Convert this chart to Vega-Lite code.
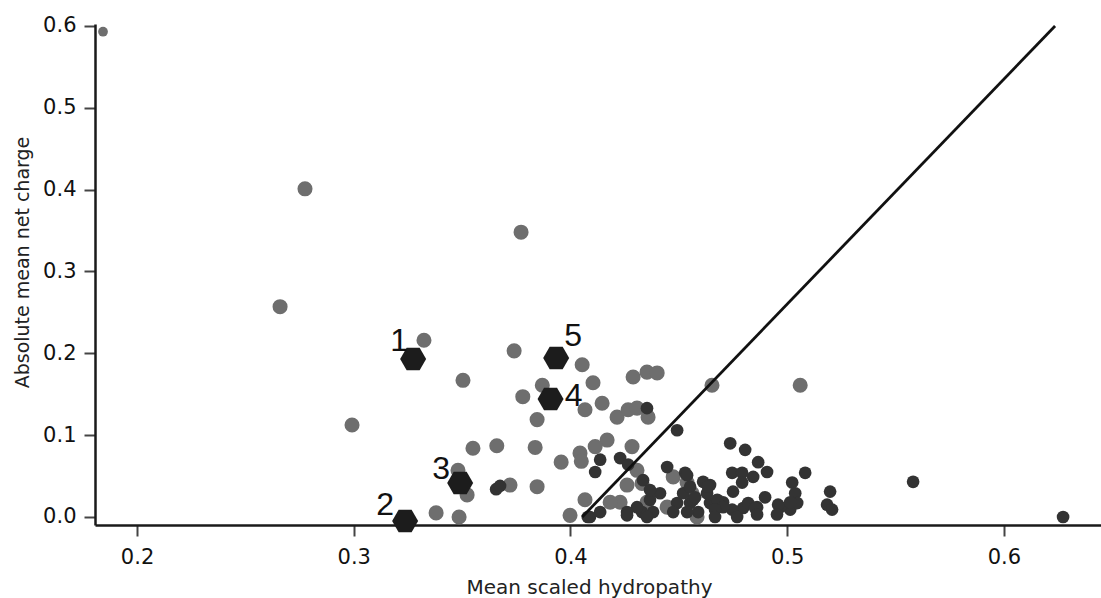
{
  "$schema": "https://vega.github.io/schema/vega-lite/v6.json",
  "width": 1006,
  "height": 501,
  "autosize": {"type": "none"},
  "padding": {"left": 95, "top": 24, "right": 0, "bottom": 73},
  "background": "white",
  "config": {
    "view": {"stroke": null},
    "axis": {
      "grid": false,
      "domainColor": "#1a1a1a",
      "domainWidth": 2.5,
      "tickColor": "#444444",
      "tickWidth": 2,
      "tickSize": 11,
      "labelFont": "DejaVu Sans",
      "labelFontSize": 21,
      "labelColor": "#111111",
      "titleFont": "DejaVu Sans",
      "titleFontWeight": "normal",
      "titleColor": "#222222"
    }
  },
  "datasets": {
    "pts": [
      {"x": 0.2775, "y": 0.401, "g": "gray"},
      {"x": 0.266, "y": 0.257, "g": "gray"},
      {"x": 0.2992, "y": 0.1124, "g": "gray"},
      {"x": 0.3772, "y": 0.348, "g": "gray"},
      {"x": 0.3324, "y": 0.216, "g": "gray"},
      {"x": 0.3504, "y": 0.167, "g": "gray"},
      {"x": 0.374, "y": 0.203, "g": "gray"},
      {"x": 0.4054, "y": 0.186, "g": "gray"},
      {"x": 0.387, "y": 0.161, "g": "gray"},
      {"x": 0.378, "y": 0.147, "g": "gray"},
      {"x": 0.3846, "y": 0.119, "g": "gray"},
      {"x": 0.355, "y": 0.084, "g": "gray"},
      {"x": 0.366, "y": 0.087, "g": "gray"},
      {"x": 0.3837, "y": 0.085, "g": "gray"},
      {"x": 0.3957, "y": 0.067, "g": "gray"},
      {"x": 0.4044, "y": 0.078, "g": "gray"},
      {"x": 0.405, "y": 0.068, "g": "gray"},
      {"x": 0.3721, "y": 0.039, "g": "gray"},
      {"x": 0.3846, "y": 0.037, "g": "gray"},
      {"x": 0.3523, "y": 0.027, "g": "gray"},
      {"x": 0.338, "y": 0.005, "g": "gray"},
      {"x": 0.3486, "y": 0.0, "g": "gray"},
      {"x": 0.3481, "y": 0.057, "g": "gray"},
      {"x": 0.3998, "y": 0.002, "g": "gray"},
      {"x": 0.4104, "y": 0.164, "g": "gray"},
      {"x": 0.4067, "y": 0.131, "g": "gray"},
      {"x": 0.4289, "y": 0.171, "g": "gray"},
      {"x": 0.4353, "y": 0.177, "g": "gray"},
      {"x": 0.44, "y": 0.176, "g": "gray"},
      {"x": 0.4653, "y": 0.161, "g": "gray"},
      {"x": 0.506, "y": 0.161, "g": "gray"},
      {"x": 0.4146, "y": 0.139, "g": "gray"},
      {"x": 0.4215, "y": 0.122, "g": "gray"},
      {"x": 0.4266, "y": 0.131, "g": "gray"},
      {"x": 0.4307, "y": 0.133, "g": "gray"},
      {"x": 0.4358, "y": 0.122, "g": "gray"},
      {"x": 0.4169, "y": 0.094, "g": "gray"},
      {"x": 0.4114, "y": 0.086, "g": "gray"},
      {"x": 0.4284, "y": 0.086, "g": "gray"},
      {"x": 0.4307, "y": 0.057, "g": "gray"},
      {"x": 0.4261, "y": 0.039, "g": "gray"},
      {"x": 0.433, "y": 0.041, "g": "gray"},
      {"x": 0.4474, "y": 0.049, "g": "gray"},
      {"x": 0.4538, "y": 0.042, "g": "gray"},
      {"x": 0.4561, "y": 0.029, "g": "gray"},
      {"x": 0.4353, "y": 0.018, "g": "gray"},
      {"x": 0.4446, "y": 0.012, "g": "gray"},
      {"x": 0.4229, "y": 0.018, "g": "gray"},
      {"x": 0.4183, "y": 0.018, "g": "gray"},
      {"x": 0.4067, "y": 0.021, "g": "gray"},
      {"x": 0.4584, "y": 0.0, "g": "gray"},
      {"x": 0.1843, "y": 0.593, "g": "outlier"},
      {"x": 0.3657, "y": 0.034, "g": "dark"},
      {"x": 0.3675, "y": 0.038, "g": "dark"},
      {"x": 0.4353, "y": 0.133, "g": "dark"},
      {"x": 0.4492, "y": 0.106, "g": "dark"},
      {"x": 0.4137, "y": 0.07, "g": "dark"},
      {"x": 0.4114, "y": 0.055, "g": "dark"},
      {"x": 0.4229, "y": 0.072, "g": "dark"},
      {"x": 0.4266, "y": 0.064, "g": "dark"},
      {"x": 0.4446, "y": 0.061, "g": "dark"},
      {"x": 0.4529, "y": 0.054, "g": "dark"},
      {"x": 0.4737, "y": 0.09, "g": "dark"},
      {"x": 0.4806, "y": 0.082, "g": "dark"},
      {"x": 0.4866, "y": 0.067, "g": "dark"},
      {"x": 0.4907, "y": 0.055, "g": "dark"},
      {"x": 0.4746, "y": 0.054, "g": "dark"},
      {"x": 0.4792, "y": 0.054, "g": "dark"},
      {"x": 0.4843, "y": 0.049, "g": "dark"},
      {"x": 0.4792, "y": 0.042, "g": "dark"},
      {"x": 0.475, "y": 0.031, "g": "dark"},
      {"x": 0.5083, "y": 0.054, "g": "dark"},
      {"x": 0.5023, "y": 0.042, "g": "dark"},
      {"x": 0.5037, "y": 0.029, "g": "dark"},
      {"x": 0.5198, "y": 0.031, "g": "dark"},
      {"x": 0.5184, "y": 0.015, "g": "dark"},
      {"x": 0.5207, "y": 0.009, "g": "dark"},
      {"x": 0.5014, "y": 0.009, "g": "dark"},
      {"x": 0.5046, "y": 0.017, "g": "dark"},
      {"x": 0.4967, "y": 0.012, "g": "dark"},
      {"x": 0.4898, "y": 0.024, "g": "dark"},
      {"x": 0.4861, "y": 0.012, "g": "dark"},
      {"x": 0.4797, "y": 0.011, "g": "dark"},
      {"x": 0.4746, "y": 0.009, "g": "dark"},
      {"x": 0.4769, "y": 0.0, "g": "dark"},
      {"x": 0.4704, "y": 0.018, "g": "dark"},
      {"x": 0.4644, "y": 0.017, "g": "dark"},
      {"x": 0.4644, "y": 0.039, "g": "dark"},
      {"x": 0.463, "y": 0.029, "g": "dark"},
      {"x": 0.4677, "y": 0.021, "g": "dark"},
      {"x": 0.4704, "y": 0.012, "g": "dark"},
      {"x": 0.4667, "y": 0.009, "g": "dark"},
      {"x": 0.4667, "y": 0.0, "g": "dark"},
      {"x": 0.4589, "y": 0.006, "g": "dark"},
      {"x": 0.4552, "y": 0.017, "g": "dark"},
      {"x": 0.4566, "y": 0.021, "g": "dark"},
      {"x": 0.4538, "y": 0.006, "g": "dark"},
      {"x": 0.4492, "y": 0.017, "g": "dark"},
      {"x": 0.452, "y": 0.029, "g": "dark"},
      {"x": 0.4552, "y": 0.037, "g": "dark"},
      {"x": 0.4612, "y": 0.043, "g": "dark"},
      {"x": 0.4635, "y": 0.037, "g": "dark"},
      {"x": 0.4413, "y": 0.029, "g": "dark"},
      {"x": 0.4367, "y": 0.021, "g": "dark"},
      {"x": 0.4367, "y": 0.033, "g": "dark"},
      {"x": 0.4335, "y": 0.045, "g": "dark"},
      {"x": 0.4381, "y": 0.006, "g": "dark"},
      {"x": 0.4474, "y": 0.006, "g": "dark"},
      {"x": 0.433, "y": 0.006, "g": "dark"},
      {"x": 0.4353, "y": 0.0, "g": "dark"},
      {"x": 0.4307, "y": 0.012, "g": "dark"},
      {"x": 0.4261, "y": 0.006, "g": "dark"},
      {"x": 0.4261, "y": 0.002, "g": "dark"},
      {"x": 0.4137, "y": 0.006, "g": "dark"},
      {"x": 0.409, "y": 0.0, "g": "dark"},
      {"x": 0.408, "y": 0.0, "g": "dark"},
      {"x": 0.4538, "y": 0.051, "g": "dark"},
      {"x": 0.4575, "y": 0.024, "g": "dark"},
      {"x": 0.482, "y": 0.017, "g": "dark"},
      {"x": 0.5581, "y": 0.043, "g": "dark"},
      {"x": 0.6273, "y": 0.0, "g": "dark"},
      {"x": 0.5014, "y": 0.018, "g": "dark"},
      {"x": 0.4958, "y": 0.015, "g": "dark"},
      {"x": 0.4953, "y": 0.003, "g": "dark"},
      {"x": 0.4852, "y": 0.011, "g": "dark"},
      {"x": 0.4861, "y": 0.003, "g": "dark"}
    ],
    "fit": [
      {"x": 0.4054, "y": 0.0},
      {"x": 0.6236, "y": 0.6}
    ],
    "hex": [
      {"x": 0.3274, "y": 0.1931, "label": 1},
      {"x": 0.3237, "y": -0.0049, "label": 2},
      {"x": 0.3491, "y": 0.0416, "label": 3},
      {"x": 0.3908, "y": 0.1442, "label": 4},
      {"x": 0.3934, "y": 0.1943, "label": 5}
    ]
  },
  "encoding": {
    "x": {
      "field": "x",
      "type": "quantitative",
      "scale": {"domain": [0.1806, 0.6448], "nice": false, "zero": false},
      "axis": {
        "title": "Mean scaled hydropathy",
        "values": [0.2, 0.3, 0.4, 0.5, 0.6],
        "format": ".1f",
        "labelBaseline": "alphabetic",
        "labelPadding": 27,
        "titleFontSize": 20,
        "titleX": 494,
        "titleY": 68,
        "titleAlign": "center",
        "titleAnchor": null,
        "titleBaseline": "alphabetic"
      }
    },
    "y": {
      "field": "y",
      "type": "quantitative",
      "scale": {"domain": [-0.0098, 0.6024], "nice": false, "zero": false},
      "axis": {
        "title": "Absolute mean net charge",
        "values": [0, 0.1, 0.2, 0.3, 0.4, 0.5, 0.6],
        "format": ".1f",
        "labelPadding": 8,
        "labelBaseline": "middle",
        "titleFontSize": 19,
        "titleAngle": -90,
        "titleX": -67,
        "titleY": 238,
        "titleAlign": "center",
        "titleBaseline": "alphabetic"
      }
    }
  },
  "layer": [
    {
      "data": {"name": "pts"},
      "mark": {"type": "point", "shape": "circle", "filled": true, "opacity": 1, "strokeWidth": 0},
      "encoding": {
        "color": {
          "field": "g",
          "type": "nominal",
          "scale": {"domain": ["gray", "dark", "outlier"], "range": ["#6e6e6e", "#333333", "#6e6e6e"]},
          "legend": null
        },
        "size": {
          "field": "g",
          "type": "nominal",
          "scale": {"domain": ["gray", "dark", "outlier"], "range": [227, 95, 68]},
          "legend": null
        }
      }
    },
    {
      "data": {"name": "fit"},
      "mark": {"type": "line", "color": "#111111", "strokeWidth": 2.8},
      "encoding": {}
    },
    {
      "data": {"name": "hex"},
      "mark": {
        "type": "point",
        "shape": "M-1,0L-0.5,-0.866L0.5,-0.866L1,0L0.5,0.866L-0.5,0.866Z",
        "filled": true,
        "opacity": 1,
        "color": "#1c1c1c",
        "strokeWidth": 0,
        "size": 676
      },
      "encoding": {}
    },
    {
      "data": {"name": "hex"},
      "transform": [{"filter": "datum.label == 1"}],
      "mark": {"type": "text", "font": "Liberation Sans", "fontSize": 32, "color": "#111111", "align": "center", "baseline": "alphabetic", "dx": -14, "dy": -7.5},
      "encoding": {"text": {"field": "label", "type": "nominal"}}
    },
    {
      "data": {"name": "hex"},
      "transform": [{"filter": "datum.label == 2"}],
      "mark": {"type": "text", "font": "Liberation Sans", "fontSize": 32, "color": "#111111", "align": "center", "baseline": "alphabetic", "dx": -20, "dy": -5.5},
      "encoding": {"text": {"field": "label", "type": "nominal"}}
    },
    {
      "data": {"name": "hex"},
      "transform": [{"filter": "datum.label == 3"}],
      "mark": {"type": "text", "font": "Liberation Sans", "fontSize": 32, "color": "#111111", "align": "center", "baseline": "alphabetic", "dx": -19, "dy": -3.5},
      "encoding": {"text": {"field": "label", "type": "nominal"}}
    },
    {
      "data": {"name": "hex"},
      "transform": [{"filter": "datum.label == 4"}],
      "mark": {"type": "text", "font": "Liberation Sans", "fontSize": 32, "color": "#111111", "align": "center", "baseline": "alphabetic", "dx": 23, "dy": 7.5},
      "encoding": {"text": {"field": "label", "type": "nominal"}}
    },
    {
      "data": {"name": "hex"},
      "transform": [{"filter": "datum.label == 5"}],
      "mark": {"type": "text", "font": "Liberation Sans", "fontSize": 32, "color": "#111111", "align": "center", "baseline": "alphabetic", "dx": 17, "dy": -11.5},
      "encoding": {"text": {"field": "label", "type": "nominal"}}
    }
  ]
}
